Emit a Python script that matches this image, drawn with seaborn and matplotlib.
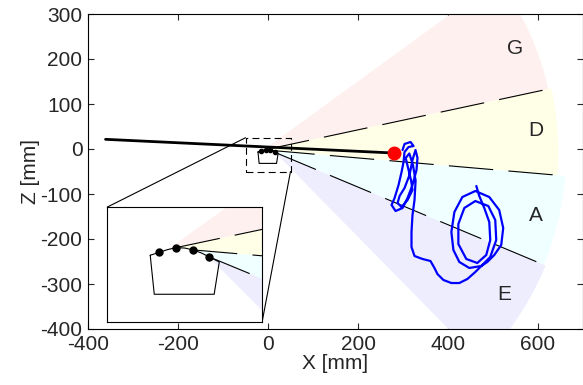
import numpy as np
import seaborn as sns
import matplotlib.pyplot as plt

# sector labels and geometry (angles in degrees from each apex)
sector_names = ['G', 'D', 'A', 'E']
sector_colors = ['#FFF0F0', '#FFFFE8', '#F0FFFF', '#EDEDFD']
sector_radius = [638, 645, 663, 667]
bound_apex_x = [-11.0, -5.5, 5.3, 15.4, 15.4]
bound_apex_z = [-2.8, -1.5, -3.0, -7.4, -7.4]
bound_angle = [36.0, 12.1, -4.95, -22.7, -45.5]
label_x = [549, 596, 596, 525]
label_z = [224, 42, -147, -324]

# head outline and electrodes
head_x = [-22.3, -16.5, -11.0, -5.5, 0.0, 5.3, 10.5, 15.4, 22.3, 19.0, -19.7, -22.3]
head_z = [-6.5, -4.6, -2.8, -1.5, -1.8, -3.0, -4.9, -7.4, -10.9, -32.0, -32.0, -6.5]
elec_x = [-16.5, -5.5, 5.3, 15.4]
elec_z = [-4.6, -1.5, -3.0, -7.4]

# gaze line and target
gaze_x = [-361, 281]
gaze_z = [21.5, -9]
target_x = 281
target_z = -9

# measured trajectory
traj_x = [299.0, 303.4, 316.7, 323.4, 312.3, 303.4, 301.2, 296.8, 290.1, 281.3,
          274.6, 283.5, 299.0, 310.1, 321.1, 330.0, 332.2, 327.8, 321.1, 314.5,
          303.4, 292.4, 287.9, 296.8, 310.1, 321.1, 318.0, 312.0, 306.0, 314.0,
          322.0, 328.0, 325.6, 321.1, 318.9, 318.9,
          325.6, 343.3, 361.0, 369.9, 376.5, 389.8, 407.5, 425.2, 443.0, 460.7,
          474.0, 487.3, 502.8, 518.3, 522.7, 513.8, 491.7, 460.7, 431.9, 414.2,
          407.5, 412.0, 425.2, 447.4, 474.0, 493.9, 507.2, 505.0, 489.5, 460.7,
          436.3, 423.0, 423.0, 440.7, 465.1, 485.0, 493.9, 491.7, 480.6, 469.5,
          462.9]
traj_z = [-2.2, 11.1, 15.6, 6.7, 4.4, -6.7, -28.9, -51.1, -80.0, -108.9,
          -124.4, -137.8, -131.1, -108.9, -80.0, -46.7, -20.0, -2.2, -24.4, -57.8,
          -86.7, -104.4, -120.0, -128.9, -113.3, -91.1, -70.0, -45.0, -20.0, -10.0,
          -35.0, -70.0, -113.3, -146.7, -184.4, -217.8,
          -237.8, -244.4, -248.9, -264.4, -277.8, -291.1, -297.8, -297.8, -288.9, -273.3,
          -260.0, -251.1, -235.6, -213.3, -175.6, -135.6, -106.7, -93.3, -106.7, -140.0,
          -184.4, -224.4, -251.1, -264.4, -260.0, -240.0, -202.2, -157.8, -126.7, -115.6,
          -131.1, -166.7, -211.1, -244.4, -253.3, -235.6, -202.2, -162.2, -131.1, -104.4,
          -82.2]

zoom_box = [-50, 50, -50, 25]

sns.set_style('ticks')
plt.rcParams['font.family'] = ['Liberation Sans', 'DejaVu Sans']
plt.rcParams['lines.scale_dashes'] = False
plt.rcParams['axes.unicode_minus'] = False
fs = 15

center = np.array([0.0, -5.0])


def ray_end(ax0, az0, ang, r):
    p = np.array([ax0, az0])
    d = np.array([np.cos(np.radians(ang)), np.sin(np.radians(ang))])
    q = p - center
    b = np.dot(q, d)
    t = -b + np.sqrt(b * b - (np.dot(q, q) - r * r))
    return p + t * d


def draw_scene(ax):
    for k in range(4):
        r = sector_radius[k]
        pu = ray_end(bound_apex_x[k], bound_apex_z[k], bound_angle[k], r)
        pl = ray_end(bound_apex_x[k + 1], bound_apex_z[k + 1], bound_angle[k + 1], r)
        a1 = np.arctan2(pu[1] - center[1], pu[0] - center[0])
        a2 = np.arctan2(pl[1] - center[1], pl[0] - center[0])
        arc = np.linspace(a1, a2, 60)
        xs = [bound_apex_x[k]] + list(center[0] + r * np.cos(arc)) + [bound_apex_x[k + 1]]
        zs = [bound_apex_z[k]] + list(center[1] + r * np.sin(arc)) + [bound_apex_z[k + 1]]
        ax.fill(xs, zs, color=sector_colors[k], lw=0, zorder=1)
    for k in range(1, 4):
        a = np.radians(bound_angle[k])
        ax.plot([bound_apex_x[k], bound_apex_x[k] + 638 * np.cos(a)],
                [bound_apex_z[k], bound_apex_z[k] + 638 * np.sin(a)],
                color='black', lw=0.8, ls=(0, (32, 11)), zorder=2)
    ax.plot(head_x, head_z, color='black', lw=0.8, zorder=3)


fig = plt.figure(figsize=(5.83, 3.85), dpi=100)
ax = fig.add_axes([88 / 583, 56 / 385, 495 / 583, 315 / 385])

draw_scene(ax)
ax.plot(elec_x, elec_z, 'o', color='black', ms=3, zorder=4)

sns.lineplot(x=traj_x, y=traj_z, sort=False, estimator=None, color='blue',
             lw=1.6, ax=ax, zorder=5)
ax.plot(gaze_x, gaze_z, color='black', lw=2, zorder=6)
ax.plot(target_x, target_z, 'o', color='red', ms=9, zorder=7)

for name, lx, lz in zip(sector_names, label_x, label_z):
    ax.text(lx, lz, name, fontsize=fs, ha='center', va='center', zorder=8)

# dashed zoom rectangle
bx0, bx1, bz0, bz1 = zoom_box
ax.plot([bx0, bx1, bx1, bx0, bx0], [bz0, bz0, bz1, bz1, bz0],
        color='black', lw=0.8, ls=(0, (5, 3)), zorder=8)

ins_pos = [-357, -384, 344, 255]
ax.plot([ins_pos[0], bx0], [ins_pos[1] + ins_pos[3], bz1], color='black', lw=0.8, zorder=8)
ax.plot([ins_pos[0] + ins_pos[2], bx1], [ins_pos[1], bz0], color='black', lw=0.8, zorder=8)

ax.set_xlim(-400, 700)
ax.set_ylim(-400, 300)
ax.set_xticks([-400, -200, 0, 200, 400, 600])
ax.set_yticks([-400, -300, -200, -100, 0, 100, 200, 300])
ax.tick_params(direction='in', length=4, width=0.8, labelsize=fs, pad=4,
               top=True, right=True)
for s in ax.spines.values():
    s.set_linewidth(0.8)
    s.set_color('black')
ax.set_xlabel('X [mm]', fontsize=fs, labelpad=0)
ax.set_ylabel('Z [mm]', fontsize=fs, labelpad=0)

# inset
axins = ax.inset_axes(ins_pos, transform=ax.transData, zorder=9)
axins.set_facecolor('white')
draw_scene(axins)
axins.plot(elec_x, elec_z, 'o', color='black', ms=5, zorder=4)
axins.set_xlim(bx0, bx1)
axins.set_ylim(bz0, bz1)
axins.set_xticks([])
axins.set_yticks([])
for s in axins.spines.values():
    s.set_linewidth(0.8)
    s.set_color('black')

fig.savefig('out.png', dpi=100)
